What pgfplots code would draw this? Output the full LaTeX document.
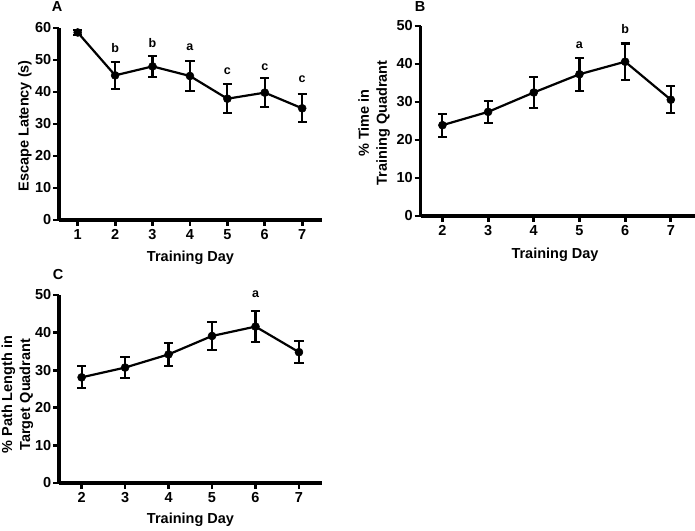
\documentclass[border=0pt]{standalone}
\usepackage{fontspec}
\setmainfont{Liberation Sans}
\usepackage{pgfplots}
\pgfplotsset{compat=1.18}
\pgfplotsset{
  panel/.style={
    scale only axis,
    anchor=south west,
    axis lines=left,
    axis line style={-, line width=3.3pt, black},
    tick align=outside,
    major tick length=6pt,
    tick style={line width=2.8pt, black},
    font=\bfseries\fontsize{14.5}{18}\selectfont,
    xtick={1,...,7},
    yticklabel style={inner xsep=1.5pt},
    xticklabel style={inner ysep=3pt},
    ylabel style={anchor=center, align=center},
    xlabel style={anchor=center},
    clip=false,
    /pgf/number format/assume math mode=true,
  },
  ser/.style={black, line width=2.2pt, mark=*, mark size=4pt,
    mark options={fill=black, draw=black, line width=0.5pt},
    error bars/.cd, y dir=both, y explicit,
    error bar style={line width=2.1pt, black},
    error mark options={rotate=90, mark size=4.6pt, line width=2.1pt, black}},
}
\newcommand{\ann}{\bfseries\fontsize{12.5}{14}\selectfont}
\begin{document}
\begin{tikzpicture}
\useasboundingbox (0,0) rectangle (695pt,530pt);
% Panel A
\begin{axis}[panel, at={(59pt,310pt)}, width=263pt, height=192pt,
  xmin=0.5, xmax=7.53, ymin=0, ymax=60, ytick={0,10,...,60},
  xlabel={Training Day}, ylabel={Escape Latency (s)},
  xlabel style={at={(axis description cs:0.5,-0.198)}},
  ylabel style={at={(axis description cs:-0.13,0.49)}}]
\addplot[ser] coordinates {
  (1,58.6) +- (0,0.8)
  (2,45.2) +- (0,4.2)
  (3,48.0) +- (0,3.3)
  (4,45.0) +- (0,4.8)
  (5,37.9) +- (0,4.5)
  (6,39.8) +- (0,4.5)
  (7,34.9) +- (0,4.4)
};
\node[font=\ann] at (axis cs:2,53.6) {b};
\node[font=\ann] at (axis cs:3,55.2) {b};
\node[font=\ann] at (axis cs:4,53.9) {a};
\node[font=\ann] at (axis cs:5,46.6) {c};
\node[font=\ann] at (axis cs:6,47.9) {c};
\node[font=\ann] at (axis cs:7,44.0) {c};
\end{axis}
% Panel B
\begin{axis}[panel, at={(420.5pt,314pt)}, width=274.5pt, height=190pt,
  xmin=1.52, xmax=7.53, xtick={2,...,7}, ymin=0, ymax=50, ytick={0,10,...,50},
  xlabel={Training Day}, ylabel={\% Time in\\Training Quadrant},
  xlabel style={at={(axis description cs:0.49,-0.205)}},
  ylabel style={at={(axis description cs:-0.169,0.49)}}]
\addplot[ser] coordinates {
  (2,23.9) +- (0,3.0)
  (3,27.4) +- (0,2.9)
  (4,32.5) +- (0,4.0)
  (5,37.3) +- (0,4.3)
  (6,40.6) +- (0,4.8)
  (7,30.6) +- (0,3.6)
};
\node[font=\ann] at (axis cs:5,45.0) {a};
\node[font=\ann] at (axis cs:6,49.1) {b};
\end{axis}
% Panel C
\begin{axis}[panel, at={(59pt,47pt)}, width=263pt, height=188pt,
  xmin=1.48, xmax=7.53, xtick={2,...,7}, ymin=0, ymax=50, ytick={0,10,...,50},
  xlabel={Training Day}, ylabel={\% Path Length in\\Target Quadrant},
  xlabel style={at={(axis description cs:0.5,-0.197)}},
  ylabel style={at={(axis description cs:-0.158,0.47)}}]
\addplot[ser] coordinates {
  (2,28.1) +- (0,2.9)
  (3,30.7) +- (0,2.85)
  (4,34.2) +- (0,3.0)
  (5,39.1) +- (0,3.7)
  (6,41.6) +- (0,4.2)
  (7,34.8) +- (0,2.9)
};
\node[font=\ann] at (axis cs:6,50.2) {a};
\end{axis}
\node[font=\bfseries\fontsize{14.5}{16}\selectfont] at (57pt,523pt) {A};
\node[font=\bfseries\fontsize{14.5}{16}\selectfont] at (420pt,523pt) {B};
\node[font=\bfseries\fontsize{14.5}{16}\selectfont] at (58pt,255pt) {C};
\end{tikzpicture}
\end{document}
